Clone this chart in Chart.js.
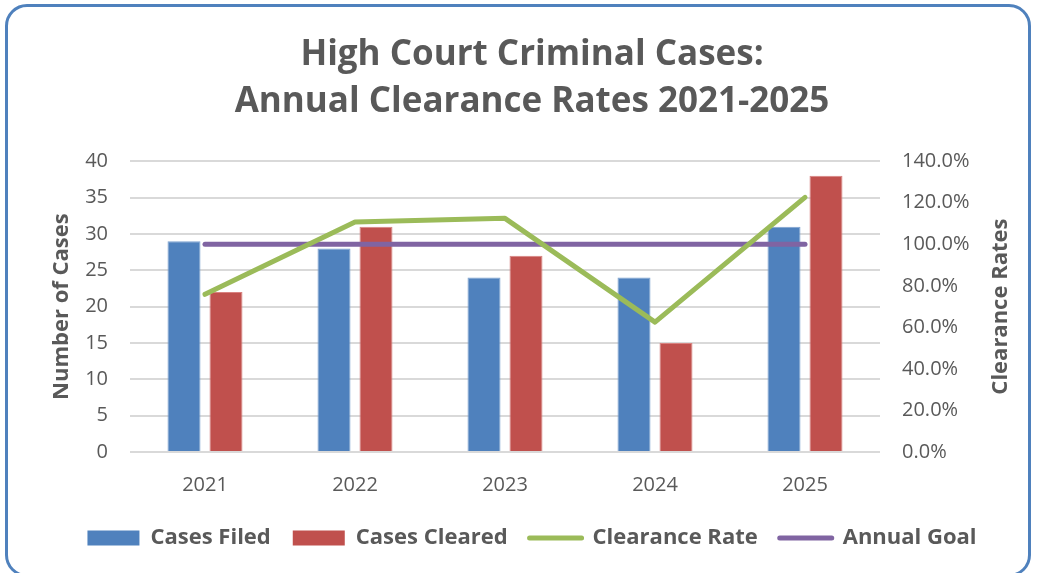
<!DOCTYPE html>
<html>
<head>
<meta charset="utf-8">
<script src="https://cdn.jsdelivr.net/npm/chart.js@4.4.1/dist/chart.umd.min.js"></script>
<style>
    html, body { margin: 0; padding: 0; background: #ffffff; }
    #frame {
        position: absolute; left: 5px; top: 4px; width: 1026px; height: 573px;
        box-sizing: border-box; border: 3px solid #4f81bd; border-radius: 22px;
    }
    #wrap { position: absolute; left: 0; top: 0; width: 1038px; height: 573px; }
</style>
</head>
<body>
<div id="frame"></div>
<div id="wrap"><canvas id="courtChart"></canvas></div>
<script>
// Chart data
const years = ['2021', '2022', '2023', '2024', '2025']
const casesFiled = [29, 28, 24, 24, 31]
const casesCleared = [22, 31, 27, 15, 38]
const clearanceRate = [0.759, 1.107, 1.125, 0.625, 1.226]
const annualGoal = [1, 1, 1, 1, 1]

const titleLines = ['High Court Criminal Cases:', 'Annual Clearance Rates 2021-2025']
const leftTitle = 'Number of Cases'
const rightTitle = 'Clearance Rates'

const textColor = '#595959'
const fontFamily = "'Open Sans', sans-serif"

// Chart.js puts a right axis title top-to-bottom; the reference reads bottom-to-top
const rightTitlePlugin = {
    id: 'rightTitlePlugin',
    afterDraw(chart) {
        const s = chart.scales.y1
        const ctx = chart.ctx
        ctx.save()
        ctx.translate(s.right - 27, (chart.chartArea.top + chart.chartArea.bottom) / 2)
        ctx.rotate(-Math.PI / 2)
        ctx.font = 'bold 22px ' + fontFamily
        ctx.fillStyle = textColor
        ctx.textAlign = 'center'
        ctx.textBaseline = 'middle'
        ctx.fillText(rightTitle, 0, 0)
        ctx.restore()
    },
}

const ctx = document.getElementById('courtChart').getContext('2d')

new Chart(ctx, {
    data: {
        labels: years,
        datasets: [
            {
                type: 'line',
                label: 'Clearance Rate',
                data: clearanceRate,
                yAxisID: 'y1',
                borderColor: '#9bbb59',
                borderWidth: 5,
                borderCapStyle: 'round',
                borderJoinStyle: 'round',
                pointRadius: 0,
                tension: 0,
                order: 0,
            },
            {
                type: 'line',
                label: 'Annual Goal',
                data: annualGoal,
                yAxisID: 'y1',
                borderColor: '#8064a2',
                borderWidth: 5,
                borderCapStyle: 'round',
                pointRadius: 0,
                order: 1,
            },
            {
                type: 'bar',
                label: 'Cases Filed',
                data: casesFiled,
                yAxisID: 'y',
                backgroundColor: '#4f81bd',
                borderColor: '#7da2d0',
                borderWidth: 1,
                categoryPercentage: 0.56,
                barPercentage: 0.786,
                order: 2,
            },
            {
                type: 'bar',
                label: 'Cases Cleared',
                data: casesCleared,
                yAxisID: 'y',
                backgroundColor: '#c0504d',
                borderColor: '#d98280',
                borderWidth: 1,
                categoryPercentage: 0.56,
                barPercentage: 0.786,
                order: 3,
            },
        ],
    },
    options: {
        responsive: true,
        maintainAspectRatio: false,
        animation: false,
        layout: {
            padding: { left: 36, right: 10, top: 0, bottom: 14 },
        },
        plugins: {
            tooltip: { enabled: false },
            title: {
                display: true,
                text: titleLines,
                color: textColor,
                font: { family: fontFamily, size: 35, weight: 'bold', lineHeight: 1.36 },
                padding: { top: 31, bottom: 35 },
            },
            legend: {
                position: 'bottom',
                labels: {
                    usePointStyle: true,
                    pointStyleWidth: 52,
                    boxHeight: 15,
                    padding: 22,
                    color: textColor,
                    font: { family: fontFamily, size: 22, weight: 'bold' },
                    generateLabels(chart) {
                        const ds = chart.data.datasets
                        return [2, 3, 0, 1].map((i) => {
                            const isBar = ds[i].type === 'bar'
                            return {
                                text: ds[i].label,
                                datasetIndex: i,
                                fillStyle: isBar ? ds[i].backgroundColor : ds[i].borderColor,
                                strokeStyle: isBar ? ds[i].backgroundColor : ds[i].borderColor,
                                lineWidth: isBar ? 0 : 5,
                                lineCap: 'round',
                                pointStyle: isBar ? 'rect' : 'line',
                                fontColor: textColor,
                                hidden: false,
                            }
                        })
                    },
                },
            },
        },
        scales: {
            x: {
                grid: { display: false },
                border: { display: false },
                ticks: {
                    color: textColor,
                    padding: 13,
                    font: { family: fontFamily, size: 20 },
                },
                afterFit: (s) => { s.height = 53 },
            },
            y: {
                position: 'left',
                min: 0,
                max: 40,
                ticks: {
                    stepSize: 5,
                    color: textColor,
                    padding: 22,
                    font: { family: fontFamily, size: 20 },
                },
                grid: { color: '#d9d9d9', lineWidth: 2, drawTicks: false },
                border: { display: false },
                title: {
                    display: true,
                    text: leftTitle,
                    color: textColor,
                    font: { family: fontFamily, size: 22, weight: 'bold' },
                    padding: { top: 13, bottom: 10 },
                },
                afterFit: (s) => { s.width = 94 },
            },
            y1: {
                position: 'right',
                min: 0,
                max: 1.4,
                ticks: {
                    stepSize: 0.2,
                    color: textColor,
                    padding: 22,
                    font: { family: fontFamily, size: 20 },
                    callback: (v) => (v * 100).toFixed(1) + '%',
                },
                grid: { display: false, drawTicks: false },
                border: { display: false },
                title: {
                    display: true,
                    text: rightTitle,
                    color: 'rgba(0,0,0,0)',
                    font: { family: fontFamily, size: 22, weight: 'bold' },
                    padding: { top: 14, bottom: 17 },
                },
                afterFit: (s) => { s.width = 148 },
            },
        },
    },
    plugins: [rightTitlePlugin],
})
</script>
</body>
</html>
